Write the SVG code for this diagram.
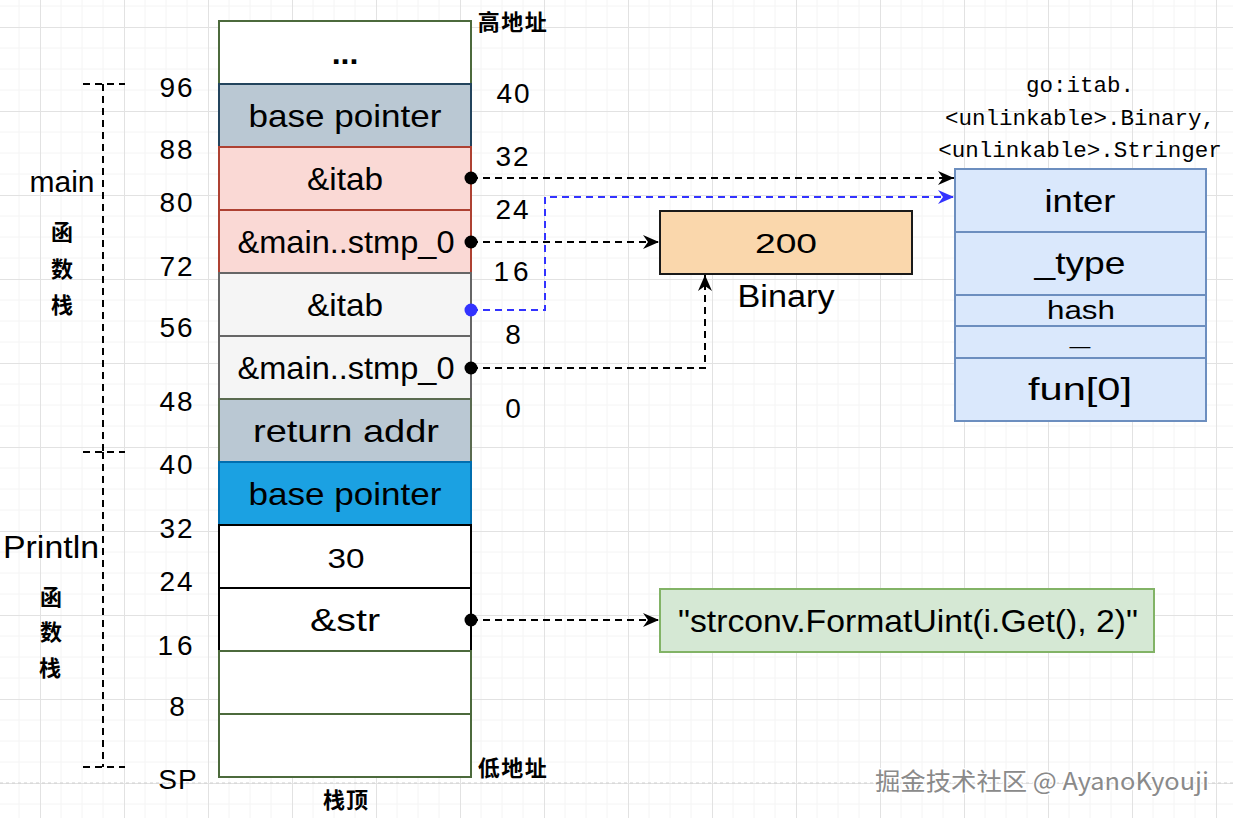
<svg xmlns="http://www.w3.org/2000/svg" width="1233" height="818" viewBox="0 0 1233 818">
<style>
.t{font-family:"Liberation Sans",Arial,sans-serif;fill:#000;text-anchor:middle}
.lbl{font-size:32px}
.num{font-size:28px}
.cjk{font-family:"Noto Sans CJK SC",sans-serif;font-weight:bold;fill:#000;text-anchor:middle;font-size:22px}
.mono{font-family:"Liberation Mono","Courier New",monospace;font-size:22.5px;fill:#000;text-anchor:middle}
.cell{stroke-width:2}
.dash{fill:none;stroke-width:2;stroke-dasharray:7 5}
.blk{stroke:#000}
.blu{stroke:#3333ff}
</style>
<defs>
<pattern id="grid" x="40" y="27" width="84" height="84" patternUnits="userSpaceOnUse">
<path d="M21,0V84M42,0V84M63,0V84M0,21H84M0,42H84M0,63H84" stroke="#f4f4f4" stroke-width="1" fill="none"/>
<path d="M0.5,0V84M0,0.5H84" stroke="#e2e2e2" stroke-width="1" fill="none"/>
</pattern>
<marker id="ab" markerUnits="userSpaceOnUse" markerWidth="18" markerHeight="16" refX="16" refY="8" orient="auto">
<path d="M0,1 L16,8 L0,15 L5,8 Z" fill="#000"/>
</marker>
<marker id="au" markerUnits="userSpaceOnUse" markerWidth="18" markerHeight="16" refX="16" refY="8" orient="auto">
<path d="M0,1 L16,8 L0,15 L5,8 Z" fill="#3333ff"/>
</marker>
</defs>
<rect x="0" y="0" width="1233" height="818" fill="#fff"/>
<rect x="0" y="0" width="1233" height="818" fill="url(#grid)"/>
<path d="M0,783H1233" stroke="#cfcfcf" stroke-width="1" stroke-dasharray="3 3"/>

<g id="stack">
<g id="cell-dots"><rect class="cell" x="219" y="21" width="252" height="63" fill="#fff" stroke="#4c6a3c"/><text class="t lbl" x="345" y="64" font-weight="bold">...</text></g>
<g id="cell-bp1"><rect class="cell" x="219" y="84" width="252" height="63" fill="#bac8d3" stroke="#23445d"/><text class="t lbl" x="345" y="127" textLength="193" lengthAdjust="spacingAndGlyphs">base pointer</text></g>
<g id="cell-itab1"><rect class="cell" x="219" y="147" width="252" height="63" fill="#fad9d5" stroke="#ae4132"/><text class="t lbl" x="345" y="190" textLength="76" lengthAdjust="spacingAndGlyphs">&amp;itab</text></g>
<g id="cell-stmp1"><rect class="cell" x="219" y="210" width="252" height="63" fill="#fad9d5" stroke="#ae4132"/><text class="t lbl" x="346" y="253" textLength="217" lengthAdjust="spacingAndGlyphs">&amp;main..stmp_0</text></g>
<g id="cell-itab2"><rect class="cell" x="219" y="273" width="252" height="63" fill="#f5f5f5" stroke="#666666"/><text class="t lbl" x="345" y="316" textLength="76" lengthAdjust="spacingAndGlyphs">&amp;itab</text></g>
<g id="cell-stmp2"><rect class="cell" x="219" y="336" width="252" height="63" fill="#f5f5f5" stroke="#666666"/><text class="t lbl" x="346" y="379" textLength="217" lengthAdjust="spacingAndGlyphs">&amp;main..stmp_0</text></g>
<g id="cell-ret"><rect class="cell" x="219" y="399" width="252" height="63" fill="#bac8d3" stroke="#5a6b50"/><text class="t lbl" x="346" y="442" textLength="186" lengthAdjust="spacingAndGlyphs">return addr</text></g>
<g id="cell-bp2"><rect class="cell" x="219" y="462" width="252" height="63" fill="#1ba1e2" stroke="#006eaf"/><text class="t lbl" x="345" y="505" textLength="193" lengthAdjust="spacingAndGlyphs">base pointer</text></g>
<g id="cell-30"><rect class="cell" x="219" y="525" width="252" height="63" fill="#fff" stroke="#000"/><text class="t num" x="346" y="568" textLength="37" lengthAdjust="spacingAndGlyphs">30</text></g>
<g id="cell-str"><rect class="cell" x="219" y="588" width="252" height="63" fill="#fff" stroke="#000"/><text class="t lbl" x="345" y="631" textLength="70" lengthAdjust="spacingAndGlyphs">&amp;str</text></g>
<g id="cell-e1"><rect class="cell" x="219" y="651" width="252" height="63" fill="#fff" stroke="#4c6a3c"/></g>
<g id="cell-e2"><rect class="cell" x="219" y="714" width="252" height="63" fill="#fff" stroke="#4c6a3c"/></g>
</g>

<g id="left-offsets">
<text class="t num" x="177" y="97" letter-spacing="2">96</text>
<text class="t num" x="177" y="159" letter-spacing="2">88</text>
<text class="t num" x="177" y="212" letter-spacing="2">80</text>
<text class="t num" x="177" y="276" letter-spacing="2">72</text>
<text class="t num" x="177" y="337" letter-spacing="2">56</text>
<text class="t num" x="177" y="411" letter-spacing="2">48</text>
<text class="t num" x="177" y="474" letter-spacing="2">40</text>
<text class="t num" x="177" y="538" letter-spacing="2">32</text>
<text class="t num" x="177" y="591" letter-spacing="2">24</text>
<text class="t num" x="177" y="655" letter-spacing="4">16</text>
<text class="t num" x="177" y="716">8</text>
<text class="t num" x="178" y="789" letter-spacing="1">SP</text>
</g>

<g id="right-offsets">
<text class="t num" x="514" y="103" letter-spacing="2">40</text>
<text class="t num" x="513" y="166" letter-spacing="2">32</text>
<text class="t num" x="513" y="219" letter-spacing="2">24</text>
<text class="t num" x="513" y="281" letter-spacing="4">16</text>
<text class="t num" x="513" y="344">8</text>
<text class="t num" x="513" y="418">0</text>
</g>

<g id="addr-labels">
<text class="cjk" x="513" y="30" letter-spacing="1.5">高地址</text>
<text class="cjk" x="513" y="776" letter-spacing="1.5">低地址</text>
<text class="cjk" x="346" y="808" letter-spacing="1">栈顶</text>
</g>

<g id="main-label">
<text class="t" x="62" y="192" font-size="30">main</text>
<text class="cjk" x="62" y="240">函</text>
<text class="cjk" x="62" y="277">数</text>
<text class="cjk" x="62" y="313">栈</text>
</g>
<g id="println-label">
<text class="t" x="51" y="558" font-size="31" textLength="96" lengthAdjust="spacingAndGlyphs">Println</text>
<text class="cjk" x="51" y="605">函</text>
<text class="cjk" x="51" y="640">数</text>
<text class="cjk" x="50" y="676">栈</text>
</g>

<g id="brackets" class="dash blk">
<path d="M83,84H125M103,84V452M83,452H125M103,452V767M83,767H125"/>
</g>

<g id="binary">
<rect x="660" y="211" width="252" height="63" fill="#fad7ac" stroke="#1a1a1a" stroke-width="2"/>
<text class="t num" x="786" y="253" font-size="29" textLength="62" lengthAdjust="spacingAndGlyphs">200</text>
<text class="t" x="786" y="307" font-size="31" textLength="97" lengthAdjust="spacingAndGlyphs">Binary</text>
</g>

<g id="itab">
<text class="mono" x="1080" y="92">go:itab.</text>
<text class="mono" x="1080" y="125">&lt;unlinkable&gt;.Binary,</text>
<text class="mono" x="1080" y="157">&lt;unlinkable&gt;.Stringer</text>
<rect x="955" y="169" width="251" height="252" fill="#dae8fc" stroke="#6c8ebf" stroke-width="2"/>
<path d="M955,232H1206M955,295H1206M955,326H1206M955,358H1206" stroke="#6c8ebf" stroke-width="2"/>
<text class="t lbl" x="1080" y="212" textLength="71" lengthAdjust="spacingAndGlyphs">inter</text>
<text class="t lbl" x="1080" y="274" textLength="91" lengthAdjust="spacingAndGlyphs">_type</text>
<text class="t" x="1081" y="319" font-size="26" textLength="68" lengthAdjust="spacingAndGlyphs">hash</text>
<text class="t" x="1080" y="344" font-size="20" textLength="20" lengthAdjust="spacingAndGlyphs">_</text>
<text class="t lbl" x="1080" y="400" textLength="104" lengthAdjust="spacingAndGlyphs">fun[0]</text>
</g>

<g id="string">
<rect x="660" y="589" width="494" height="63" fill="#d5e8d4" stroke="#82b366" stroke-width="2"/>
<text class="t lbl" x="908" y="632" textLength="460" lengthAdjust="spacingAndGlyphs">"strconv.FormatUint(i.Get(), 2)"</text>
</g>

<g id="connectors">
<path class="dash blk" d="M471,178H954" marker-end="url(#ab)"/>
<path class="dash blu" d="M471,310H545V197H954" marker-end="url(#au)"/>
<path class="dash blk" d="M471,242H659" marker-end="url(#ab)"/>
<path class="dash blk" d="M471,368H705V275" marker-end="url(#ab)"/>
<path class="dash blk" d="M471,620H659" marker-end="url(#ab)"/>
<circle cx="471" cy="178" r="6.5" fill="#000"/>
<circle cx="471" cy="242" r="6.5" fill="#000"/>
<circle cx="471" cy="310" r="6.5" fill="#3333ff"/>
<circle cx="471" cy="368" r="6.5" fill="#000"/>
<circle cx="471" cy="620" r="6.5" fill="#000"/>
</g>

<text x="1042" y="790" font-family="'Noto Sans CJK SC','Liberation Sans',sans-serif" font-size="24" fill="#8a8a8a" stroke="#ffffff" stroke-width="3" paint-order="stroke" text-anchor="middle" textLength="334" lengthAdjust="spacingAndGlyphs">掘金技术社区 @ AyanoKyouji</text>
</svg>
